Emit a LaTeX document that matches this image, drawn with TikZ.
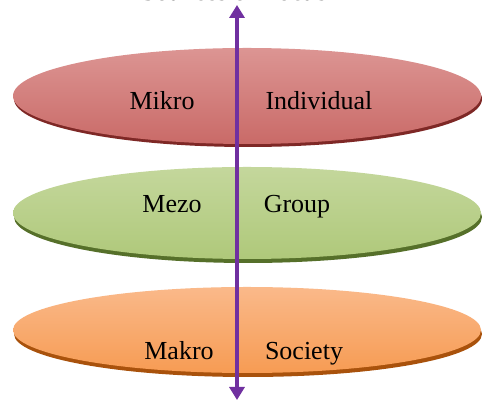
\documentclass[tikz,border=0pt]{standalone}
\usepackage{fontspec}
\setmainfont{Liberation Serif}
\usetikzlibrary{arrows.meta}

\definecolor{mikrotop}{HTML}{DC9593}
\definecolor{mikromid}{HTML}{C0504D}
\definecolor{mikrorim}{HTML}{7E2826}
\definecolor{mezotop}{HTML}{C4D79C}
\definecolor{mezomid}{HTML}{9BBB59}
\definecolor{mezorim}{HTML}{56702A}
\definecolor{makrotop}{HTML}{FAB98A}
\definecolor{makromid}{HTML}{F58A35}
\definecolor{makrorim}{HTML}{A9520C}
\definecolor{axispurple}{HTML}{7030A0}

\begin{document}
\begin{tikzpicture}[x=1pt,y=1pt,
  lbl/.style={font=\fontsize{26}{28}\selectfont,anchor=base,text=black}]
  \useasboundingbox (0,0) rectangle (482,403);
  \fill[white] (0,0) rectangle (482,403);
  % three discs: dark rim first, then the glossy top
  \fill[mikrorim] (248,304) ellipse (234 and 48);
  \shade[top color=mikrotop,middle color=mikromid,bottom color=mikromid!85!white] (247,307) ellipse (234 and 48);
  \fill[mezorim] (248,186) ellipse (234 and 46);
  \shade[top color=mezotop,middle color=mezomid,bottom color=mezomid!80!white] (247,190) ellipse (234 and 46);
  \fill[makrorim] (248,69) ellipse (234 and 43);
  \shade[top color=makrotop,middle color=makromid,bottom color=makromid!85!white] (247,73) ellipse (234 and 43);
  % labels
  \node[lbl] (mikro) at (162,293) {Mikro};
  \node[lbl] (indiv) at (319,293) {Individual};
  \node[lbl] (mezo) at (172,190) {Mezo};
  \node[lbl] (group) at (297,190) {Group};
  \node[lbl] (makro) at (179,43) {Makro};
  \node[lbl] (society) at (304,43) {Society};
  % title, mostly above the page edge
  \node[lbl,font=\bfseries\fontsize{26}{28}\selectfont] (title) at (234,402) {Sources of Focus};
  % axis through the discs
  \coordinate (top) at (237,398);
  \coordinate (bottom) at (237,3);
  \draw[axispurple,line width=4pt,{Triangle[width=15pt,length=13pt]}-{Triangle[width=15pt,length=13pt]}] (bottom) -- (top);
\end{tikzpicture}
\end{document}
